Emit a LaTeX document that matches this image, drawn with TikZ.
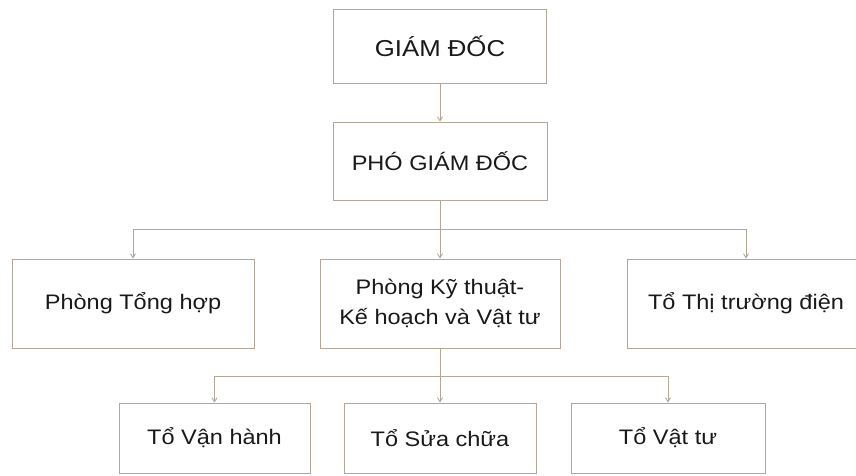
\documentclass[tikz,border=0pt]{standalone}
\usepackage{fontspec}
\setmainfont{Liberation Sans}[FakeStretch=1.12]
\usetikzlibrary{arrows.meta}
\definecolor{ln}{RGB}{178,168,152}
\definecolor{tx}{RGB}{25,25,25}
\begin{document}
\begin{tikzpicture}[x=1pt,y=1pt,
  box/.style={draw=ln, line width=0.9pt, text=tx, inner sep=0pt, align=center},
  big/.style={font=\fontsize{23}{27}\selectfont},
  mid/.style={font=\fontsize{21}{27}\selectfont},
  norm/.style={font=\fontsize{21}{29.5}\selectfont},
  conn/.style={draw=ln, line width=0.9pt},
  arr/.style={conn, -{Straight Barb[length=4pt,width=5pt]}}]
\useasboundingbox (0,0) rectangle (856,-475);
\fill[white] (0,0) rectangle (856,-475);
% level 1
\node[box, big, minimum width=213, minimum height=74] (gd) at (440,-46) {GIÁM ĐỐC};
\node[box, mid, minimum width=214, minimum height=78] (pgd) at (440,-161) {PHÓ GIÁM ĐỐC};
% level 2
\node[box, norm, minimum width=242, minimum height=89] (th) at (133,-303.5) {Phòng Tổng hợp};
\node[box, norm, minimum width=240, minimum height=89] (kt) at (440,-303.5) {Phòng Kỹ thuật-\\Kế hoạch và Vật tư};
\node[box, norm, minimum width=238, minimum height=89] (tt) at (746,-303.5) {Tổ Thị trường điện};
% level 3
\node[box, norm, minimum width=191, minimum height=70] (vh) at (214.5,-438) {Tổ Vận hành};
\node[box, norm, minimum width=192, minimum height=70] (sc) at (440,-438) {Tổ Sửa chữa};
\node[box, norm, minimum width=194, minimum height=70] (vt) at (668,-438) {Tổ Vật tư};
% junctions
\coordinate (j1) at (440,-229);
\coordinate (j2) at (440,-376);
% connectors
\draw[arr] (gd.south) -- (pgd.north);
\draw[arr] (pgd.south) -- (kt.north);
\draw[arr] (j1) -| (th.north);
\draw[arr] (j1) -| (tt.north);
\draw[arr] (kt.south) -- (sc.north);
\draw[arr] (j2) -| (vh.north);
\draw[arr] (j2) -| (vt.north);
\end{tikzpicture}
\end{document}
